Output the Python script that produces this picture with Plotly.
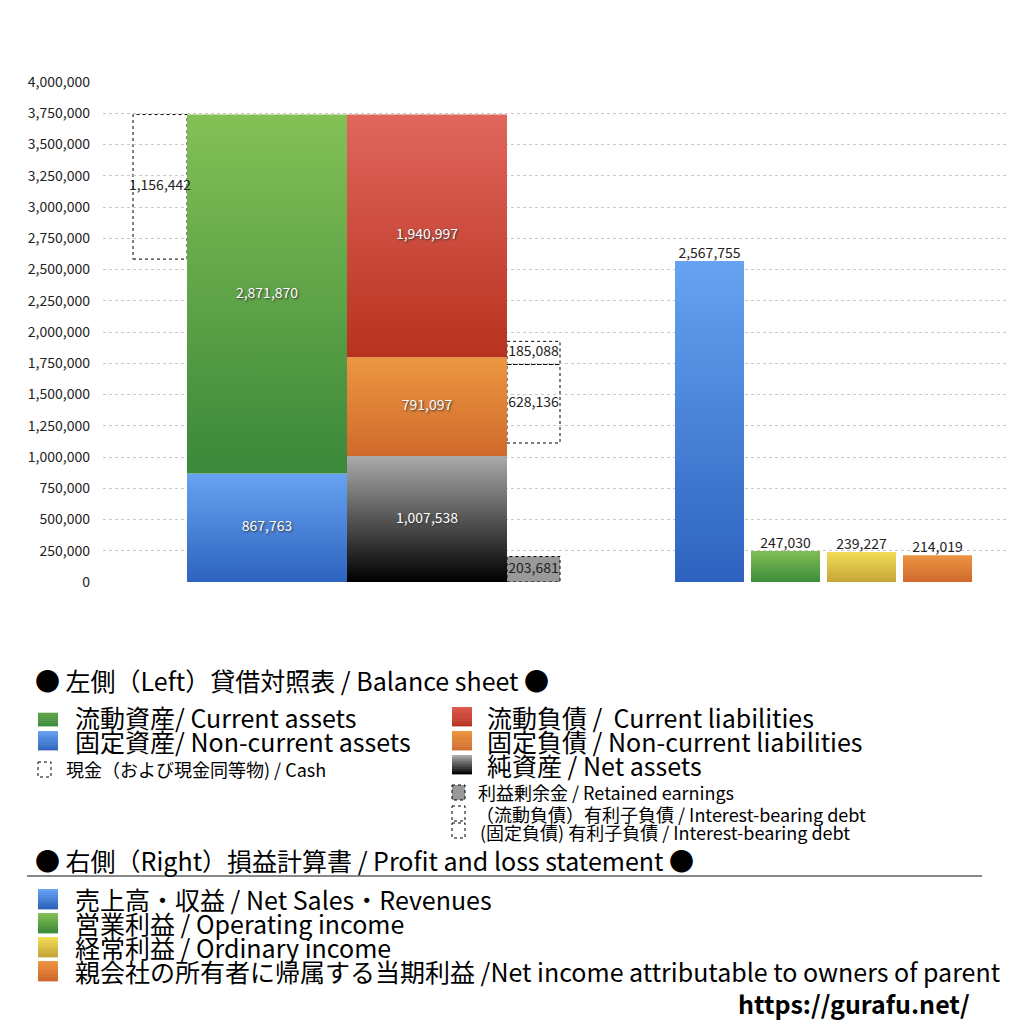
import plotly.graph_objects as go
import plotly.colors as pc

# balance sheet (left side)
current_assets = 2871870
noncurrent_assets = 867763
current_liabilities = 1940997
noncurrent_liabilities = 791097
net_assets = 1007538
cash = 1156442
retained_earnings = 203681
debt_current = 185088
debt_noncurrent = 628136
debt_base = 1112000  # where the debt boxes start

# profit and loss (right side)
pl_names = ["売上高・収益", "営業利益", "経常利益", "親会社の所有者に帰属する当期利益"]
pl_values = [2567755, 247030, 239227, 214019]
pl_colors = [("#66a3f0", "#2d63bf"), ("#82bd57", "#3d8c3a"),
             ("#f2de55", "#c6a43a"), ("#eb9542", "#d0682c")]

y_ticks = list(range(0, 4000001, 250000))

FONT = "Noto Sans CJK JP"

# plot area in pixels (as in the reference picture)
L, R, T, B = 103, 1007, 82, 582
OFF = 8  # page body margin


def px(x):
    return (x - L) / (R - L)


def py(y):
    return (B - y) / (B - T)


def fmt(v):
    return f"{v:,}"


fig = go.Figure()


def block(xc, w, y0, y1, top, bottom):
    fig.add_trace(go.Scatter(
        x=[xc - w / 2, xc + w / 2, xc + w / 2, xc - w / 2, xc - w / 2],
        y=[y0, y0, y1, y1, y0],
        mode="lines", fill="toself", line=dict(width=0),
        fillgradient=dict(type="vertical", colorscale=[[0, bottom], [1, top]],
                          start=y0, stop=y1),
        hoverinfo="skip", showlegend=False))


def label(xc, y, text, dark=False, pos="middle center", size=14):
    fig.add_trace(go.Scatter(
        x=[xc], y=[y], mode="text", text=[text], textposition=pos,
        textfont=dict(family=FONT, size=size,
                      color="#222" if dark else "white",
                      shadow="none" if dark else "1px 1px 2px #333"),
        hoverinfo="skip", showlegend=False))


def dotted_box(xc, w, y0, y1, fill="rgba(0,0,0,0)"):
    fig.add_shape(type="rect", xref="x", yref="y", layer="below",
                  x0=xc - w / 2, x1=xc + w / 2, y0=y0, y1=y1,
                  line=dict(color="black", width=1, dash="dot"), fillcolor=fill)


# x centres / widths in plot pixel units
cash_x, side_w = 57, 54
assets_x, liab_x, main_w = 164, 324, 160
debt_x = 430.5
pl_x = [606.5, 682.5, 758.5, 834.5]
pl_w = 69

total_assets = current_assets + noncurrent_assets

# assets column
block(assets_x, main_w, 0, noncurrent_assets, "#66a3f0", "#2d63bf")
block(assets_x, main_w, noncurrent_assets, total_assets, "#84c055", "#3a883a")
label(assets_x, noncurrent_assets / 2, fmt(noncurrent_assets))
label(assets_x, noncurrent_assets + current_assets / 2, fmt(current_assets))

# liabilities + net assets column
nl_top = net_assets + noncurrent_liabilities
cl_top = nl_top + current_liabilities
block(liab_x, main_w, 0, net_assets, "#aaaaaa", "#000000")
block(liab_x, main_w, net_assets, nl_top, "#ec9741", "#d06a2c")
block(liab_x, main_w, nl_top, cl_top, "#e0665e", "#b8321e")
label(liab_x, net_assets / 2, fmt(net_assets))
label(liab_x, net_assets + noncurrent_liabilities / 2, fmt(noncurrent_liabilities))
label(liab_x, nl_top + current_liabilities / 2, fmt(current_liabilities))

# dotted boxes
dotted_box(cash_x, side_w, total_assets - cash, total_assets)
label(cash_x, total_assets - cash / 2, fmt(cash), dark=True)
dotted_box(debt_x, 53, 0, retained_earnings, fill="#999999")
label(debt_x, retained_earnings / 2, fmt(retained_earnings), dark=True)
dotted_box(debt_x, 53, debt_base, debt_base + debt_noncurrent)
label(debt_x, debt_base + debt_noncurrent / 2, fmt(debt_noncurrent), dark=True)
dotted_box(debt_x, 53, debt_base + debt_noncurrent,
           debt_base + debt_noncurrent + debt_current)
label(debt_x, debt_base + debt_noncurrent + debt_current / 2, fmt(debt_current), dark=True)

# profit and loss bars
for xc, v, (top, bottom) in zip(pl_x, pl_values, pl_colors):
    block(xc, pl_w, 0, v, top, bottom)
    label(xc, v, fmt(v), dark=True, pos="top center")

# ---- custom legend below the chart ----
ann = []
shapes = []


def text(x, y, s, size, bold=False):
    ann.append(dict(x=px(x), y=py(y), xref="paper", yref="paper", text=s,
                    showarrow=False, xanchor="left", yanchor="middle",
                    font=dict(family=FONT, size=size, color="black",
                              weight="bold" if bold else "normal")))


def grad_square(x0, y0, x1, y1, top, bottom, n=10):
    h = (y1 - y0) / n
    for i in range(n):
        c = pc.find_intermediate_color(pc.hex_to_rgb(top), pc.hex_to_rgb(bottom),
                                       i / (n - 1))
        col = "rgb(%d,%d,%d)" % c
        shapes.append(dict(type="rect", xref="paper", yref="paper",
                           x0=px(x0), x1=px(x1), y0=py(y0 + i * h), y1=py(y0 + (i + 1) * h + 0.4),
                           line=dict(width=0), fillcolor=col))


def dot_square(x0, y0, x1, y1, fill="rgba(0,0,0,0)"):
    shapes.append(dict(type="rect", xref="paper", yref="paper",
                       x0=px(x0), x1=px(x1), y0=py(y0), y1=py(y1),
                       line=dict(width=1, color="black", dash="dot"), fillcolor=fill))


def hline(y, color, width):
    shapes.append(dict(type="line", xref="paper", yref="paper",
                       x0=px(27), x1=px(982), y0=py(y), y1=py(y),
                       line=dict(color=color, width=width)))


BIG = 25
SMALL = 18

text(33, 680, "● 左側（Left）貸借対照表 / Balance sheet ●", BIG)
hline(694, "black", 1.5)

grad_square(38, 707, 58, 726, "#6cb24e", "#3d8c3a")
text(73, 717, "流動資産/ Current assets", BIG)
grad_square(38, 731, 58, 750, "#66a3f0", "#2d63bf")
text(73, 741, "固定資産/ Non-current assets", BIG)
dot_square(38, 762, 51, 777)
text(64, 769, "現金（および現金同等物) / Cash", SMALL)

grad_square(452, 707, 472, 726, "#dc5a50", "#b8321e")
text(485, 717, "流動負債 /  Current liabilities", BIG)
grad_square(452, 731, 472, 750, "#ec9741", "#d06a2c")
text(485, 741, "固定負債 / Non-current liabilities", BIG)
grad_square(452, 755, 472, 774, "#aaaaaa", "#000000")
text(485, 765, "純資産 / Net assets", BIG)
dot_square(452, 785, 465, 800, fill="#999999")
text(476, 792, "利益剰余金 / Retained earnings", SMALL)
dot_square(452, 806, 465, 821)
text(474, 814, "（流動負債）有利子負債 / Interest-bearing debt", SMALL)
dot_square(452, 823, 465, 838)
text(478, 832, "(固定負債) 有利子負債 / Interest-bearing debt", SMALL)

text(33, 860, "● 右側（Right）損益計算書 / Profit and loss statement ●", BIG)
hline(876, "#888888", 2)

pl_legend = ["売上高・収益 / Net Sales・Revenues",
             "営業利益 / Operating income",
             "経常利益 / Ordinary income",
             "親会社の所有者に帰属する当期利益 /Net income attributable to owners of parent"]
for i, (s, (top, bottom)) in enumerate(zip(pl_legend, pl_colors)):
    yc = 899 + 24 * i
    grad_square(38, yc - 10, 58, yc + 10, top, bottom)
    text(73, yc, s, BIG)

ann.append(dict(x=px(972), y=py(1003), xref="paper", yref="paper",
                text="https://gurafu.net/", showarrow=False,
                xanchor="right", yanchor="middle",
                font=dict(family=FONT, size=25, color="black", weight="bold")))

fig.update_layout(
    width=1024, height=1024,
    margin=dict(l=L - OFF, r=1024 - R + OFF, t=T - OFF, b=1024 - B + OFF, pad=0),
    plot_bgcolor="white", paper_bgcolor="white",
    showlegend=False,
    xaxis=dict(range=[0, R - L], visible=False, fixedrange=True),
    yaxis=dict(range=[0, 4000000], tickvals=y_ticks,
               ticktext=[fmt(v) for v in y_ticks],
               tickfont=dict(family=FONT, size=14, color="#222"),
               showgrid=True, gridcolor="#c8c8c8", griddash="dot", gridwidth=1,
               zeroline=False, showline=False, ticks="", ticklabelstandoff=12),
    annotations=ann,
    shapes=shapes,
)

fig.write_html("out.html")
